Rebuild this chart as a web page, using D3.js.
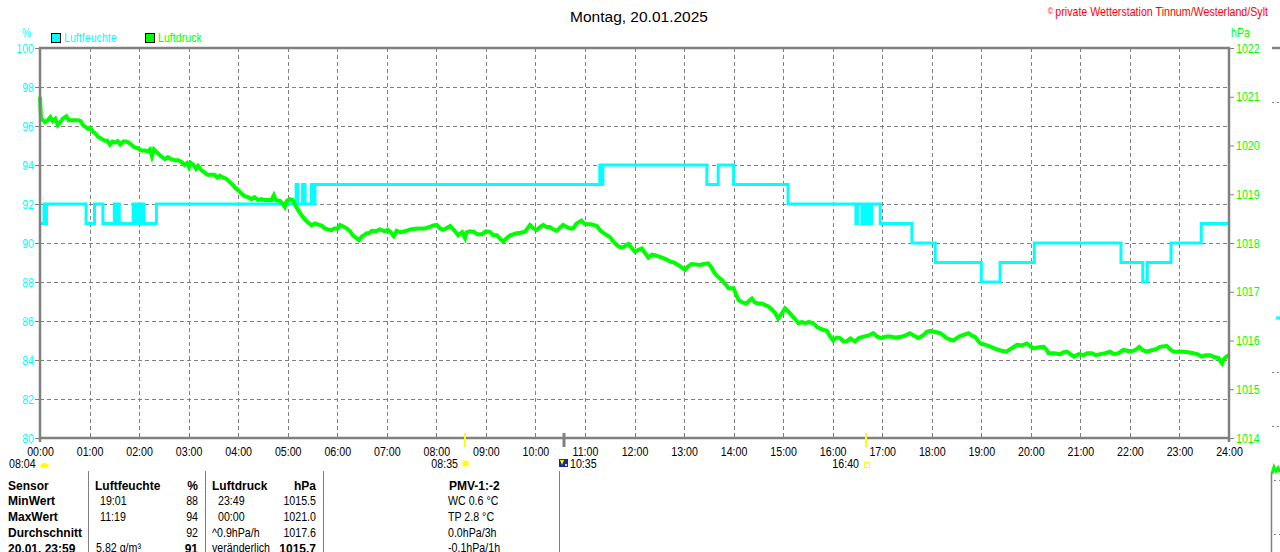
<!DOCTYPE html>
<html><head><meta charset="utf-8">
<script src="https://cdn.jsdelivr.net/npm/d3@7"></script>
<style>
html,body{margin:0;padding:0;background:#fff;}
svg{display:block;}
.n{font-family:"Liberation Sans",Arial,sans-serif;font-size:13px;}
.b{font-family:"Liberation Sans",Arial,sans-serif;font-size:12px;font-weight:bold;}
</style></head>
<body>
<svg id="c" width="1280" height="552"></svg>
<script>
// ---------- data ----------
const title = "Montag, 20.01.2025";
const copyright = "private Wetterstation Tinnum/Westerland/Sylt";
const seriesNames = ["Luftfeuchte", "Luftdruck"];
const hourLabels = d3.range(0, 25).map(h => String(h).padStart(2, "0") + ":00");
const humTicks = [80, 82, 84, 86, 88, 90, 92, 94, 96, 98, 100];
const presTicks = [1014, 1015, 1016, 1017, 1018, 1019, 1020, 1021, 1022];

// Luftfeuchte (%) change points [hour, value]
const humidity = [
 [0,91],[0.08,92],[0.10,91],[0.13,92],[0.93,91],[1.10,92],[1.27,91],[1.50,92],[1.52,91],[1.57,92],[1.60,91],
 [1.88,92],[1.91,91],[1.97,92],[2.00,91],[2.05,92],[2.10,91],[2.35,92],
 [5.17,93],[5.21,92],[5.30,93],[5.35,92],[5.48,93],[5.51,92],[5.55,93],
 [11.30,94],[11.33,93],[11.36,94],[13.46,93],[13.69,94],[14.00,93],[15.10,92],
 [16.47,91],[16.50,92],[16.59,91],[16.64,92],[16.69,91],[16.72,92],[16.75,91],[16.79,92],
 [16.96,91],[17.60,90],[18.07,89],[19.00,88],[19.38,89],[20.07,90],[21.82,89],[22.26,88],[22.35,89],
 [22.83,90],[23.44,91],[24,91]
];

// Luftdruck (hPa) [hour, value]
const pressure = [
 [0.00,1021.00],[0.02,1020.56],[0.10,1020.48],[0.16,1020.52],[0.21,1020.58],[0.26,1020.50],[0.31,1020.55],[0.36,1020.42],[0.41,1020.48],[0.46,1020.55],[0.53,1020.60],[0.58,1020.52],[0.63,1020.52],[0.77,1020.52],[0.82,1020.50],[0.87,1020.42],[0.92,1020.38],[0.97,1020.34],[1.02,1020.36],[1.07,1020.28],[1.12,1020.24],[1.17,1020.18],[1.24,1020.14],[1.31,1020.10],[1.36,1020.10],[1.41,1020.02],[1.46,1020.08],[1.52,1020.06],[1.57,1020.09],[1.62,1020.02],[1.68,1020.08],[1.74,1020.08],[1.79,1020.06],[1.84,1020.02],[1.91,1019.96],[1.98,1019.94],[2.04,1019.90],[2.11,1019.90],[2.17,1019.88],[2.22,1019.92],[2.26,1019.78],[2.30,1019.92],[2.36,1019.86],[2.42,1019.80],[2.47,1019.76],[2.52,1019.72],[2.58,1019.76],[2.65,1019.72],[2.72,1019.70],[2.79,1019.70],[2.86,1019.66],[2.92,1019.60],[2.97,1019.64],[3.01,1019.55],[3.05,1019.64],[3.10,1019.60],[3.15,1019.52],[3.19,1019.58],[3.25,1019.50],[3.32,1019.45],[3.38,1019.40],[3.46,1019.40],[3.52,1019.40],[3.58,1019.34],[3.63,1019.38],[3.70,1019.34],[3.76,1019.32],[3.83,1019.25],[3.90,1019.18],[3.95,1019.12],[4.00,1019.08],[4.06,1019.02],[4.13,1018.96],[4.20,1018.94],[4.27,1018.90],[4.33,1018.94],[4.40,1018.88],[4.47,1018.90],[4.53,1018.88],[4.60,1018.88],[4.67,1018.88],[4.72,1018.98],[4.76,1018.88],[4.85,1018.86],[4.90,1018.80],[4.94,1018.74],[4.98,1018.86],[5.04,1018.90],[5.10,1018.88],[5.14,1018.80],[5.21,1018.68],[5.28,1018.57],[5.35,1018.48],[5.41,1018.42],[5.48,1018.36],[5.55,1018.40],[5.61,1018.38],[5.68,1018.36],[5.75,1018.30],[5.81,1018.28],[5.88,1018.26],[5.94,1018.30],[6.01,1018.30],
 [6.06,1018.37],[6.12,1018.34],[6.19,1018.30],[6.26,1018.24],[6.32,1018.15],[6.39,1018.10],[6.44,1018.06],[6.49,1018.13],[6.54,1018.16],[6.59,1018.20],[6.64,1018.20],[6.70,1018.25],[6.78,1018.24],[6.86,1018.28],[6.96,1018.24],[7.02,1018.27],[7.07,1018.23],[7.14,1018.14],[7.20,1018.25],[7.27,1018.22],[7.37,1018.24],[7.47,1018.28],[7.57,1018.29],[7.67,1018.30],[7.77,1018.30],[7.87,1018.33],[7.94,1018.36],[8.01,1018.37],[8.07,1018.30],[8.14,1018.27],[8.21,1018.31],[8.28,1018.35],[8.36,1018.26],[8.44,1018.16],[8.52,1018.22],[8.58,1018.10],[8.61,1018.22],[8.68,1018.24],[8.75,1018.23],[8.83,1018.18],[8.92,1018.18],[9.00,1018.24],[9.08,1018.23],[9.15,1018.16],[9.22,1018.16],[9.29,1018.08],[9.35,1018.03],[9.42,1018.10],[9.49,1018.16],[9.56,1018.18],[9.62,1018.20],[9.70,1018.21],[9.79,1018.23],[9.84,1018.30],[9.89,1018.37],[9.96,1018.30],[10.03,1018.27],[10.10,1018.33],[10.16,1018.37],[10.22,1018.33],[10.29,1018.33],[10.36,1018.28],[10.43,1018.25],[10.50,1018.32],[10.56,1018.37],[10.63,1018.33],[10.70,1018.30],[10.76,1018.30],[10.83,1018.40],[10.93,1018.46],[10.98,1018.40],[11.04,1018.39],[11.14,1018.38],[11.24,1018.35],[11.30,1018.27],[11.34,1018.23],
 [11.44,1018.16],[11.51,1018.12],[11.57,1018.03],[11.64,1017.96],[11.71,1017.91],[11.78,1017.92],[11.88,1017.98],[11.94,1017.90],[12.01,1017.82],[12.08,1017.86],[12.15,1017.89],[12.21,1017.80],[12.28,1017.70],[12.35,1017.76],[12.41,1017.75],[12.50,1017.72],[12.58,1017.69],[12.65,1017.66],[12.72,1017.62],[12.80,1017.60],[12.88,1017.55],[12.95,1017.50],[13.02,1017.45],[13.08,1017.52],[13.15,1017.57],[13.24,1017.56],[13.32,1017.55],[13.40,1017.57],[13.49,1017.58],[13.55,1017.50],[13.62,1017.38],[13.69,1017.30],[13.76,1017.24],[13.83,1017.16],[13.90,1017.07],[14.00,1017.07],[14.05,1016.95],[14.10,1016.83],[14.18,1016.78],[14.26,1016.76],[14.32,1016.82],[14.37,1016.86],[14.43,1016.78],[14.50,1016.76],[14.57,1016.76],[14.63,1016.73],[14.70,1016.70],[14.77,1016.64],[14.84,1016.56],[14.90,1016.45],[14.97,1016.55],[15.04,1016.66],[15.10,1016.60],[15.17,1016.52],[15.24,1016.44],[15.31,1016.35],[15.38,1016.38],[15.44,1016.35],[15.52,1016.38],[15.61,1016.35],[15.68,1016.28],[15.74,1016.25],[15.81,1016.22],[15.88,1016.20],[15.94,1016.10],[16.01,1016.00],[16.08,1016.06],[16.15,1016.05],[16.22,1015.98],[16.28,1015.98],[16.36,1016.04],[16.45,1015.98],[16.53,1016.05],[16.62,1016.08],[16.72,1016.10],[16.82,1016.15],[16.90,1016.08],[16.99,1016.05],[17.08,1016.08],[17.16,1016.08],[17.26,1016.06],[17.36,1016.07],[17.46,1016.10],[17.56,1016.15],[17.64,1016.10],[17.73,1016.05],[17.82,1016.10],[17.90,1016.18],[17.97,1016.20],
 [18.05,1016.18],[18.17,1016.15],[18.24,1016.10],[18.30,1016.05],[18.37,1016.02],[18.44,1016.00],[18.50,1016.05],[18.57,1016.09],[18.66,1016.12],[18.74,1016.15],[18.81,1016.10],[18.88,1016.07],[18.93,1016.00],[18.98,1015.94],[19.06,1015.92],[19.14,1015.89],[19.22,1015.86],[19.31,1015.82],[19.41,1015.79],[19.51,1015.77],[19.61,1015.84],[19.72,1015.91],[19.82,1015.90],[19.92,1015.94],[19.99,1015.88],[20.06,1015.84],[20.16,1015.86],[20.26,1015.87],[20.31,1015.82],[20.36,1015.74],[20.47,1015.74],[20.59,1015.72],[20.66,1015.76],[20.73,1015.77],[20.80,1015.72],[20.87,1015.67],[20.97,1015.72],[21.06,1015.70],[21.14,1015.74],[21.23,1015.74],[21.31,1015.70],[21.40,1015.72],[21.50,1015.74],[21.60,1015.77],[21.68,1015.72],[21.77,1015.74],[21.87,1015.81],[21.97,1015.78],[22.07,1015.79],[22.13,1015.82],[22.19,1015.87],[22.26,1015.80],[22.34,1015.77],[22.44,1015.80],[22.52,1015.82],[22.61,1015.87],[22.68,1015.88],[22.74,1015.89],[22.81,1015.82],[22.88,1015.77],[22.98,1015.77],[23.08,1015.77],[23.18,1015.76],[23.28,1015.74],[23.36,1015.72],[23.45,1015.67],[23.53,1015.70],[23.62,1015.70],[23.70,1015.66],[23.79,1015.64],[23.82,1015.58],[23.86,1015.53],[23.90,1015.62],[23.96,1015.68],[24.00,1015.70]
];

// Sun / event markers
const startLabel = "08:04";
const events = [
 {t:"08:35", kind:"sun"},
 {t:"10:35", kind:"moon"},
 {t:"16:40", kind:"set"}
];

// Summary table
const tableHeader = ["Sensor", "Luftfeuchte", "%", "Luftdruck", "hPa", "PMV-1:-2"];
const rowLabels = ["MinWert", "MaxWert", "Durchschnitt", "20.01. 23:59"];
const humTimes = ["19:01", "11:19", "", "5.82 g/m³"];
const humValues = ["88", "94", "92", "91"];
const presTimes = ["23:49", "00:00", "^0.9hPa/h", "veränderlich"];
const presValues = ["1015.5", "1021.0", "1017.6", "1015.7"];
const pmvValues = ["WC 0.6 °C", "TP 2.8 °C", "0.0hPa/3h", "-0.1hPa/1h"];

// ---------- drawing ----------
const CY = "#00ffff", GR = "#00ff00", GRAY = "#808080";
const NARROW = 0.82;
const svg = d3.select("#c");
const L = 40, R = 1229, T = 48, B = 438;
const x = d3.scaleLinear().domain([0, 24]).range([L, R]);
const yH = d3.scaleLinear().domain([80, 100]).range([B, T]);
const yP = d3.scaleLinear().domain([1014, 1022]).range([B, T]);
const toH = s => { const [h, m] = s.split(":").map(Number); return h + m / 60; };

// title + copyright
svg.append("text").attr("x", 639).attr("y", 21.5).attr("text-anchor", "middle")
  .style("font-family", "'Liberation Sans',Arial,sans-serif").style("font-size", "15.5px").text(title);
const cp = svg.append("text").attr("class", "n").attr("x", 1268).attr("y", 16.5).attr("text-anchor", "end").attr("fill", "#ff0000");
cp.append("tspan").style("font-size", "9px").attr("dy", -2).text("© ");
cp.append("tspan").attr("dy", 2).text(copyright);

// unit labels
svg.append("text").attr("class", "n").attr("x", 26.5).attr("y", 37).attr("text-anchor", "middle").attr("fill", CY).text("%");
svg.append("text").attr("class", "n").attr("x", 1231).attr("y", 37.5).attr("fill", GR).text("hPa");

// legend
const legX = [51, 145], legCol = [CY, GR];
seriesNames.forEach((n, i) => {
  svg.append("rect").attr("x", legX[i] + 0.5).attr("y", 33.5).attr("width", 9).attr("height", 9)
    .attr("fill", legCol[i]).attr("stroke", "#000").attr("stroke-width", 1);
  svg.append("text").attr("class", "n").attr("x", legX[i] + 13).attr("y", 42).attr("fill", legCol[i]).text(n);
});

// grid
const grid = svg.append("g").attr("stroke", GRAY).attr("stroke-width", 1).attr("stroke-dasharray", "4,3");
grid.selectAll("line.h").data(humTicks.slice(1, -1)).join("line")
  .attr("x1", L).attr("x2", R).attr("y1", d => Math.round(yH(d)) + 0.5).attr("y2", d => Math.round(yH(d)) + 0.5);
grid.selectAll("line.v").data(d3.range(1, 24)).join("line")
  .attr("y1", T).attr("y2", B).attr("x1", d => Math.round(x(d)) + 0.5).attr("x2", d => Math.round(x(d)) + 0.5);

// left axis
const axL = svg.append("g").attr("transform", `translate(${L},0)`)
  .call(d3.axisLeft(yH).tickValues(humTicks).tickSize(5).tickPadding(1).tickFormat(d3.format("d")));
axL.select(".domain").remove();
axL.selectAll("line").attr("stroke", GRAY);
axL.selectAll("text").attr("class", "n").attr("fill", CY);

// right axis
const axR = svg.append("g").attr("transform", `translate(${R},0)`)
  .call(d3.axisRight(yP).tickValues(presTicks).tickSize(5).tickPadding(2).tickFormat(d3.format("d")));
axR.select(".domain").remove();
axR.selectAll("line").attr("stroke", GRAY);
axR.selectAll("text").attr("class", "n").attr("fill", GR);

// bottom axis labels
const axB = svg.append("g").attr("transform", `translate(0,${B})`)
  .call(d3.axisBottom(x).tickValues(d3.range(0, 25)).tickSize(0).tickPadding(9).tickFormat(d => hourLabels[d]));
axB.select(".domain").remove();
axB.selectAll("text").attr("class", "n").attr("fill", "#000");
[axL, axR, axB].forEach(a => a.attr("font-family", null).attr("font-size", null));

// series
svg.append("path").datum(humidity).attr("fill", "none").attr("stroke", CY).attr("stroke-width", 3)
  .attr("d", d3.line().x(d => x(d[0])).y(d => yH(d[1])).curve(d3.curveStepAfter));
svg.append("path").datum(pressure).attr("fill", "none").attr("stroke", GR).attr("stroke-width", 4)
  .attr("stroke-linejoin", "miter")
  .attr("d", d3.line().x(d => x(d[0])).y(d => yP(d[1])));

// frame
svg.append("path").attr("fill", "none").attr("stroke", GRAY).attr("stroke-width", 2.5)
  .attr("d", `M${L},${B + 4}V${T}H${R}V${B + 4}M${L},${B}H${R}`);

// event ticks and labels
svg.append("text").attr("class", "n").attr("x", 9).attr("y", 468).text(startLabel);
svg.append("path").attr("fill", "#ffff00").attr("d", "M40,467.5 A4.5,4.5 0 0 1 49,467.5 Z");
events.forEach(e => {
  const px = Math.round(x(toH(e.t)));
  if (e.kind === "moon") {
    svg.append("line").attr("x1", px).attr("x2", px).attr("y1", 433).attr("y2", 447).attr("stroke", GRAY).attr("stroke-width", 3);
    svg.append("rect").attr("x", px - 5).attr("y", 459).attr("width", 9).attr("height", 8).attr("fill", "#1c2a8a");
    svg.append("path").attr("fill", "#ffff00").attr("d", `M${px - 4},${460}h4l-2,5z`);
    svg.append("rect").attr("x", px + 1).attr("y", 464).attr("width", 2).attr("height", 2).attr("fill", "#cfd8ff");
    svg.append("text").attr("class", "n").attr("x", px + 6).attr("y", 468).text(e.t);
  } else {
    svg.append("line").attr("x1", px).attr("x2", px).attr("y1", 433).attr("y2", 447).attr("stroke", "#ffff00").attr("stroke-width", 2);
    svg.append("text").attr("class", "n").attr("x", px - 7).attr("y", 468).attr("text-anchor", "end").text(e.t);
    if (e.kind === "sun") {
      const g = svg.append("g").attr("transform", `translate(${px + 0.5},463.5)`);
      d3.range(8).forEach(k => {
        const a = k * Math.PI / 4;
        g.append("line").attr("x1", Math.cos(a) * 3).attr("y1", Math.sin(a) * 3)
          .attr("x2", Math.cos(a) * 5).attr("y2", Math.sin(a) * 5).attr("stroke", "#ffff99").attr("stroke-width", 1.2);
      });
      g.append("circle").attr("r", 3).attr("fill", "#ffff00");
    } else {
      svg.append("rect").attr("x", px - 1.5).attr("y", 462.5).attr("width", 5).attr("height", 5)
        .attr("fill", "none").attr("stroke", "#ffff00").attr("stroke-width", 1);
    }
  }
});

// table
const sep = [88.5, 205.5, 323.5, 559.5];
sep.forEach(s => svg.append("line").attr("x1", s).attr("x2", s).attr("y1", 471).attr("y2", 552).attr("stroke", GRAY).attr("stroke-width", 1));
const hx = [8, 95, 198, 212, 316, 449];
const ha = ["start", "start", "end", "start", "end", "start"];
tableHeader.forEach((h, i) => svg.append("text").attr("class", "b").attr("x", hx[i]).attr("y", 489.5).attr("text-anchor", ha[i]).text(h));
const rowY = [505, 521, 537, 552.5];
rowLabels.forEach((r, i) => {
  const y = rowY[i], last = i === 3;
  svg.append("text").attr("class", "b").attr("x", 8).attr("y", y).text(r);
  svg.append("text").attr("class", "n").attr("x", last ? 96 : 100).attr("y", y).text(humTimes[i]);
  svg.append("text").attr("class", last ? "b" : "n").attr("x", 198).attr("y", y).attr("text-anchor", "end").text(humValues[i]);
  svg.append("text").attr("class", "n").attr("x", i < 2 ? 218 : 212).attr("y", y).text(presTimes[i]);
  svg.append("text").attr("class", last ? "b" : "n").attr("x", 316).attr("y", y).attr("text-anchor", "end").text(presValues[i]);
  svg.append("text").attr("class", "n").attr("x", 448).attr("y", y).text(pmvValues[i]);
});

// narrow (condensed) rendering of regular texts: squeeze horizontally around each anchor
svg.selectAll("text.n").each(function () {
  const t = d3.select(this);
  const ax = +(t.attr("x") || 0);
  t.attr("transform", `translate(${ax},0) scale(${NARROW},1) translate(${-ax},0)`);
});

// edge of neighbouring chart (cut off at right border)
const edge = svg.append("g");
edge.append("line").attr("x1", 1272).attr("x2", 1280).attr("y1", 48).attr("y2", 48).attr("stroke", GRAY).attr("stroke-width", 2.5);
[102, 372, 426].forEach(y => edge.append("line").attr("x1", 1272).attr("x2", 1280).attr("y1", y + 0.5).attr("y2", y + 0.5)
  .attr("stroke", GRAY).attr("stroke-dasharray", "2,3"));
edge.append("line").attr("x1", 1276).attr("x2", 1280).attr("y1", 318).attr("y2", 318).attr("stroke", CY).attr("stroke-width", 3);
edge.append("line").attr("x1", 1271.5).attr("x2", 1271.5).attr("y1", 472).attr("y2", 552).attr("stroke", GRAY).attr("stroke-width", 1.5);
edge.append("path").attr("fill", "none").attr("stroke", GR).attr("stroke-width", 3)
  .attr("d", "M1272,474L1274,467L1276,471L1278,468L1280,472");
[480, 534].forEach(y => edge.append("line").attr("x1", 1274).attr("x2", 1280).attr("y1", y + 0.5).attr("y2", y + 0.5)
  .attr("stroke", GRAY).attr("stroke-dasharray", "2,3"));
</script>
</body></html>
